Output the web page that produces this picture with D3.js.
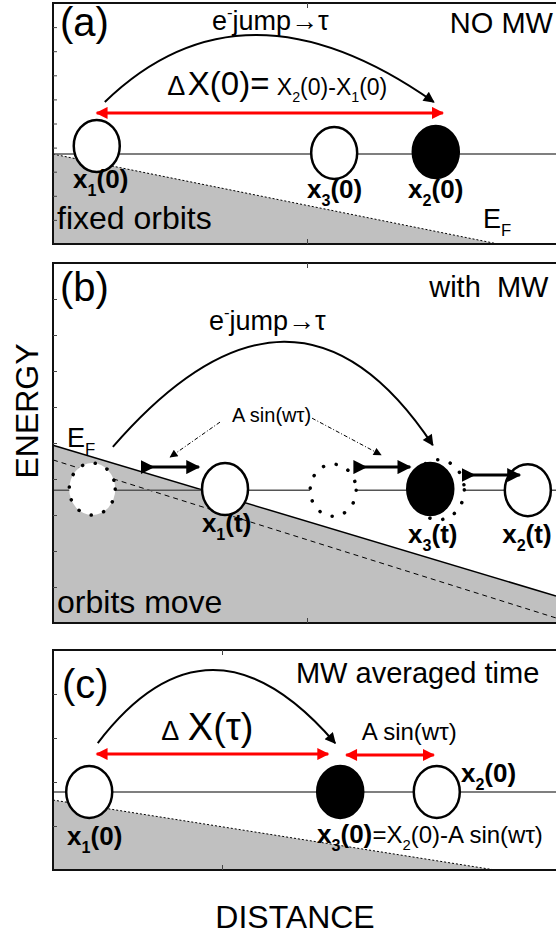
<!DOCTYPE html>
<html>
<head>
<meta charset="utf-8">
<script src="https://cdn.jsdelivr.net/npm/d3@7/dist/d3.min.js"></script>
<style>
  body { margin: 0; background: #fff; }
  svg text { font-family: "Liberation Sans", Arial, sans-serif; fill: #000; }
</style>
</head>
<body>
<script>

// ---- data (distance 0..100 across the frame, energy 0..100 inside each panel) ----
var panelIds = ["a", "b", "c"];

var levelEnergy = [37.3, 36.9, 35.5];                 // orbit line
var fermiStart  = [[0, 37.3], [0, 49.4], [0, 31.8]];  // E_F line, left end
var fermiEnd    = [[88.5, 0], [100, 7.5], [87.9, 0]]; // E_F line, right end
var fermiOld    = [null, [[0, 45.3], [100, 1.4]], null]; // dashed E_F in (b)

// panel, distance, energy, kind
var orbits = [
    ["a", 8.7, 40.7, "open"],
    ["a", 55.9, 37.8, "open"],
    ["a", 76.1, 38.2, "filled"],
    ["b", 7.8, 37.2, "dotted"],
    ["b", 34.2, 37.2, "open"],
    ["b", 55.7, 36.9, "dotted"],
    ["b", 76.6, 37.0, "halo"],
    ["b", 75.0, 37.2, "filled"],
    ["b", 94.4, 36.9, "open"],
    ["c", 7.2, 35.5, "open"],
    ["c", 57.1, 35.5, "filled"],
    ["c", 76.3, 35.5, "open"]
];

// panel, start, peak, end  (electron jump)
var jumps = [
    ["a", [10.3, 58.9], [40.4, 86.7], [75.7, 58.9]],
    ["b", [11.9, 48.9], [45.9, 78.1], [75.5, 49.4]],
    ["c", [8.9, 57.7], [31.8, 90.9], [56.1, 57.7]]
];

// panel, from, to, energy  (red double arrows)
var spans = [
    ["a", 8.7, 77.5, 54.4],
    ["c", 8.7, 54.7, 52.7],
    ["c", 58.3, 75.7, 52.3]
];

// panel, from, to, energy  (orbit shift A sin(wt))
var shifts = [
    ["b", 17.7, 29.0, 43.3],
    ["b", 60.0, 71.0, 43.3],
    ["b", 81.5, 92.8, 41.1]
];

// panel, from, to  (thin dash-dot pointers)
var pointers = [
    ["b", [33.2, 55.8], [23.3, 46.1]],
    ["b", [51.5, 56.9], [65.2, 46.7]]
];

// panel, text (_ = subscript, ^ = superscript), distance, energy, style
var labels = [
    ["a", "(a)", 1.4, 86.3, "tag"],
    ["a", "e^-jump\u2192\u03c4", 31.6, 88.8, "jump"],
    ["a", "NO MW", 78.9, 87.6, "title"],
    ["a", "\u0394", 22.7, 61.8, "delta"],
    ["a", "X(0)=", 26.8, 61.8, "eqA"],
    ["a", "X_2(0)-X_1(0)", 44.5, 61.8, "mid"],
    ["a", "x_1(0)", 4.0, 23.3, "orbit"],
    ["a", "x_3(0)", 50.5, 19.1, "orbit"],
    ["a", "x_2(0)", 70.6, 19.1, "orbit"],
    ["a", "fixed orbits", 0.8, 6.2, "region"],
    ["a", "E_F", 85.5, 6.6, "fermi"],

    ["b", "(b)", 1.4, 89.4, "tag"],
    ["b", "with  MW", 74.8, 90.6, "title"],
    ["b", "e^-jump\u2192\u03c4", 31.0, 81.4, "jump"],
    ["b", "A sin(w\u03c4)", 35.6, 55.8, "note"],
    ["b", "E_F", 2.8, 48.9, "fermi"],
    ["b", "x_1(t)", 29.6, 25.3, "orbit"],
    ["b", "x_3(t)", 70.6, 22.2, "orbit"],
    ["b", "x_2(t)", 89.3, 22.2, "orbit"],
    ["b", "orbits move", 0.8, 2.8, "region"],

    ["c", "(c)", 1.8, 78.2, "tag"],
    ["c", "MW averaged time", 48.3, 85.0, "title"],
    ["c", "\u0394", 21.5, 59.1, "delta"],
    ["c", "X(\u03c4)", 26.8, 59.1, "eqC"],
    ["c", "A sin(w\u03c4)", 61.4, 59.1, "note2"],
    ["c", "x_2(0)", 81.1, 40.0, "orbit"],
    ["c", "x_1(0)", 2.8, 11.4, "orbit"],
    ["c", "x_3(0)", 52.5, 12.3, "orbit"],
    ["c", "=X_2(0)-A sin(w\u03c4)", 63.5, 12.3, "eq"]
];

var energyTicks = [[10, 20, 30, 40, 50, 60, 70, 80, 90],
                   [10, 20, 30, 40, 50, 60, 70, 80, 90],
                   [20, 40, 60, 80]];
var distanceTick = [50.5, 50.5, 33.6];

// ---- layout ----
var W = 556, H = 936;
var frameLeft = 53, frameRight = 560;
var panelBox = { a: [3, 244], b: [263, 623], c: [650, 870] };

var styles = {
    tag:    { size: 40 },
    title:  { size: 29 },
    jump:   { size: 27 },
    delta:  { size: 27 },
    eqA:    { size: 33 },
    eqC:    { size: 38 },
    mid:    { size: 23 },
    orbit:  { size: 26, weight: "bold" },
    region: { size: 32 },
    fermi:  { size: 27 },
    note:   { size: 20 },
    note2:  { size: 24 },
    eq:     { size: 24 }
};

var svg = d3.select("body").append("svg")
    .attr("width", W)
    .attr("height", H)
    .style("display", "block");

svg.append("rect").attr("width", W).attr("height", H).attr("fill", "#fff");

var defs = svg.append("defs");

function addMarker(id, color, size, refX, orient) {
    defs.append("marker")
        .attr("id", id)
        .attr("viewBox", "0 0 10 10")
        .attr("refX", refX)
        .attr("refY", 5)
        .attr("markerUnits", "userSpaceOnUse")
        .attr("markerWidth", size[0])
        .attr("markerHeight", size[1])
        .attr("orient", orient || "auto-start-reverse")
        .append("path")
        .attr("d", "M0,0L10,5L0,10Z")
        .attr("fill", color);
}
addMarker("headRed", "#ff0000", [15, 12], 9);
addMarker("headBlack", "#000", [15, 11], 9);
addMarker("headThick", "#000", [16, 14], 9);
addMarker("tailThick", "#000", [14, 14], 1, "auto");   // triangle at the tail, same direction
addMarker("headThin", "#000", [10, 8], 9);

var x = d3.scaleLinear().domain([0, 100]).range([frameLeft, W]);

// subscripts / superscripts in labels
function writeText(sel, str, fs) {
    var parts = [], buf = "", i = 0;
    while (i < str.length) {
        var ch = str[i];
        if ((ch === "_" || ch === "^") && i + 1 < str.length) {
            if (buf) parts.push({ t: buf, k: "n" });
            buf = "";
            parts.push({ t: str[i + 1], k: ch === "_" ? "sub" : "sup" });
            i += 2;
        } else {
            buf += ch;
            i++;
        }
    }
    if (buf) parts.push({ t: buf, k: "n" });

    var shift = 0;
    parts.forEach(function(p) {
        var target = p.k === "sub" ? 0.3 * fs : (p.k === "sup" ? -0.45 * fs : 0);
        var ts = sel.append("tspan").attr("dy", target - shift).text(p.t);
        if (p.k !== "n") ts.attr("font-size", fs * 0.62);
        shift = target;
    });
}

panelIds.forEach(function(id, pi) {
    var box = panelBox[id];
    var y = d3.scaleLinear().domain([0, 100]).range([box[1], box[0]]);
    var g = svg.append("g").attr("class", "panel-" + id);

    // filled states below E_F
    var fs = fermiStart[pi], fe = fermiEnd[pi];
    var poly = [[fs[0], fs[1]], [fe[0], fe[1]]];
    if (fe[0] >= 100) poly.push([100, 0]);
    poly.push([0, 0]);
    g.append("path")
        .attr("d", d3.line().x(function(d) { return x(d[0]); }).y(function(d) { return y(d[1]); })(poly) + "Z")
        .attr("fill", "#c0c0c0");

    var fermiLine = g.append("line")
        .attr("x1", x(fs[0])).attr("y1", y(fs[1]))
        .attr("x2", x(fe[0])).attr("y2", y(fe[1]))
        .attr("stroke", "#000");
    if (id === "b") {
        fermiLine.attr("stroke-width", 1.5);
    } else {
        fermiLine.attr("stroke-width", 1).attr("stroke-dasharray", "2,2");
    }

    if (fermiOld[pi]) {
        g.append("line")
            .attr("x1", x(fermiOld[pi][0][0])).attr("y1", y(fermiOld[pi][0][1]))
            .attr("x2", x(fermiOld[pi][1][0])).attr("y2", y(fermiOld[pi][1][1]))
            .attr("stroke", "#000")
            .attr("stroke-width", 1)
            .attr("stroke-dasharray", "5,4");
    }

    // orbit level
    g.append("line")
        .attr("x1", x(0)).attr("x2", x(100))
        .attr("y1", y(levelEnergy[pi])).attr("y2", y(levelEnergy[pi]))
        .attr("stroke", "#555")
        .attr("stroke-width", 1.5);

    // electron jump
    jumps.filter(function(d) { return d[0] === id; }).forEach(function(d) {
        var p0 = [x(d[1][0]), y(d[1][1])], pk = [x(d[2][0]), y(d[2][1])], p1 = [x(d[3][0]), y(d[3][1])];
        var cx = 2 * pk[0] - (p0[0] + p1[0]) / 2, cy = 2 * pk[1] - (p0[1] + p1[1]) / 2;
        var path = d3.path();
        path.moveTo(p0[0], p0[1]);
        path.quadraticCurveTo(cx, cy, p1[0], p1[1]);
        g.append("path")
            .attr("d", path.toString())
            .attr("fill", "none")
            .attr("stroke", "#000")
            .attr("stroke-width", 2)
            .attr("marker-end", "url(#headBlack)");
    });

    // red distance arrows
    g.selectAll("line.span")
        .data(spans.filter(function(d) { return d[0] === id; }))
        .enter().append("line")
        .attr("class", "span")
        .attr("x1", function(d) { return x(d[1]); })
        .attr("x2", function(d) { return x(d[2]); })
        .attr("y1", function(d) { return y(d[3]); })
        .attr("y2", function(d) { return y(d[3]); })
        .attr("stroke", "#ff0000")
        .attr("stroke-width", 3)
        .attr("marker-start", "url(#headRed)")
        .attr("marker-end", "url(#headRed)");

    // orbits
    g.selectAll("ellipse")
        .data(orbits.filter(function(d) { return d[0] === id; }))
        .enter().append("ellipse")
        .attr("cx", function(d) { return x(d[1]); })
        .attr("cy", function(d) { return y(d[2]); })
        .attr("rx", function(d) { return d[3] === "halo" ? 26 : 23; })
        .attr("ry", function(d) { return d[3] === "halo" ? 30 : 26; })
        .attr("fill", function(d) { return d[3] === "filled" ? "#000" : "#fff"; })
        .attr("stroke", "#000")
        .attr("stroke-width", function(d) { return (d[3] === "dotted" || d[3] === "halo") ? 3.5 : 2.5; })
        .attr("stroke-linecap", "round")
        .attr("stroke-dasharray", function(d) { return (d[3] === "dotted" || d[3] === "halo") ? "0.1,13" : null; });

    // orbit shifts
    g.selectAll("line.shift")
        .data(shifts.filter(function(d) { return d[0] === id; }))
        .enter().append("line")
        .attr("class", "shift")
        .attr("x1", function(d) { return x(d[1]); })
        .attr("x2", function(d) { return x(d[2]); })
        .attr("y1", function(d) { return y(d[3]); })
        .attr("y2", function(d) { return y(d[3]); })
        .attr("stroke", "#000")
        .attr("stroke-width", 3)
        .attr("marker-start", "url(#tailThick)")
        .attr("marker-end", "url(#headThick)");

    // pointers
    g.selectAll("line.pointer")
        .data(pointers.filter(function(d) { return d[0] === id; }))
        .enter().append("line")
        .attr("class", "pointer")
        .attr("x1", function(d) { return x(d[1][0]); })
        .attr("y1", function(d) { return y(d[1][1]); })
        .attr("x2", function(d) { return x(d[2][0]); })
        .attr("y2", function(d) { return y(d[2][1]); })
        .attr("stroke", "#000")
        .attr("stroke-width", 1)
        .attr("stroke-dasharray", "4,2,1,2")
        .attr("marker-end", "url(#headThin)");

    // labels
    labels.filter(function(d) { return d[0] === id; }).forEach(function(d) {
        var st = styles[d[4]];
        var t = g.append("text")
            .attr("x", x(d[2]))
            .attr("y", y(d[3]))
            .attr("font-size", st.size + "px")
            .attr("xml:space", "preserve");
        if (st.weight) t.attr("font-weight", st.weight);
        writeText(t, d[1], st.size);
    });

    // frame with small inner ticks
    g.append("rect")
        .attr("x", frameLeft)
        .attr("y", box[0])
        .attr("width", frameRight - frameLeft)
        .attr("height", box[1] - box[0])
        .attr("fill", "none")
        .attr("stroke", "#111")
        .attr("stroke-width", 2);

    var left = g.append("g")
        .attr("transform", "translate(" + frameLeft + ",0)")
        .call(d3.axisLeft(y).tickValues(energyTicks[pi]).tickSize(-4).tickFormat(""));
    var bottom = g.append("g")
        .attr("transform", "translate(0," + box[1] + ")")
        .call(d3.axisBottom(x).tickValues([distanceTick[pi]]).tickSize(-5).tickFormat(""));
    var top = g.append("g")
        .attr("transform", "translate(0," + box[0] + ")")
        .call(d3.axisTop(x).tickValues([distanceTick[pi]]).tickSize(-5).tickFormat(""));
    [left, bottom, top].forEach(function(a) {
        a.select(".domain").remove();
        a.selectAll(".tick line").attr("stroke", "#444");
    });
});

// axis titles
svg.append("text")
    .attr("transform", "translate(38,411) rotate(-90)")
    .attr("text-anchor", "middle")
    .attr("font-size", "32px")
    .text("ENERGY");

svg.append("text")
    .attr("x", 295)
    .attr("y", 928)
    .attr("text-anchor", "middle")
    .attr("font-size", "32px")
    .text("DISTANCE");

</script>
</body>
</html>
